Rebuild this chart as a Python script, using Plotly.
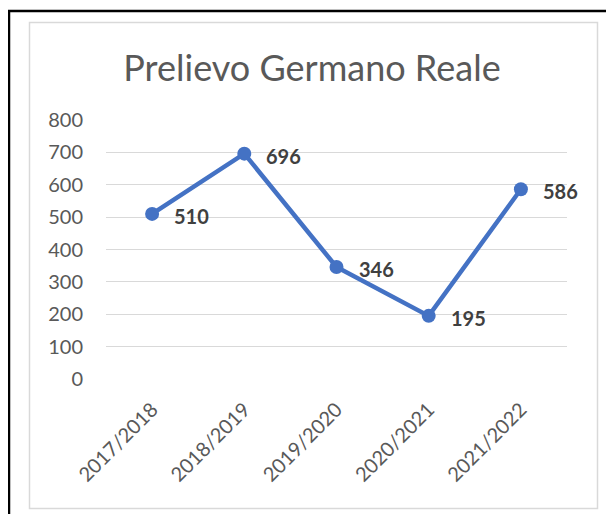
import plotly.graph_objects as go

seasons = ["2017/2018", "2018/2019", "2019/2020", "2020/2021", "2021/2022"]
prelievo = [510, 696, 346, 195, 586]
y_ticks = [0, 100, 200, 300, 400, 500, 600, 700, 800]

# the page body adds an 8px margin; lay out in reference pixels minus that offset
OFF = 8
W, H = 614 - 2 * OFF, 522 - 2 * OFF
L, T = 106 - OFF, 120 - OFF
R = W - (567 - OFF)
B = H - (379 - OFF)
FONT = "Lato, Carlito, Calibri, sans-serif"

def px_x(px):
    return (px - OFF - L) / (W - L - R)

def px_y(py):
    return (H - B - (py - OFF)) / (H - T - B)

fig = go.Figure()
fig.add_trace(go.Scatter(
    x=seasons, y=prelievo, mode="lines+markers",
    line=dict(color="#4472C4", width=4.5),
    marker=dict(color="#4472C4", size=14),
    hoverinfo="x+y", showlegend=False,
))

for s, v in zip(seasons, prelievo):
    fig.add_annotation(x=s, y=v, text="<b>%d</b>" % v, showarrow=False,
                       xanchor="left", yanchor="middle", xshift=20, yshift=-2,
                       font=dict(family=FONT, size=20, color="#404040"))

fig.update_layout(
    width=W, height=H,
    margin=dict(l=L, r=R, t=T, b=B, autoexpand=False),
    paper_bgcolor="white", plot_bgcolor="white",
    title=dict(text="Prelievo Germano Reale", x=px_x(312), xref="paper",
               y=1 - (68 - OFF) / H, yref="container", xanchor="center", yanchor="middle",
               font=dict(family=FONT, size=36, color="#595959")),
    xaxis=dict(type="category", range=[-0.5, 4.5], showgrid=False, zeroline=False,
               showline=False, tickangle=-45, ticks="", ticklabelstandoff=14,
               tickfont=dict(family=FONT, size=20, color="#595959")),
    yaxis=dict(range=[0, 800], tickvals=y_ticks, showgrid=True, gridcolor="#D9D9D9",
               gridwidth=1.3, zeroline=False, showline=False, ticks="",
               ticklabelstandoff=22,
               tickfont=dict(family=FONT, size=20, color="#595959")),
    shapes=[
        dict(type="rect", xref="paper", yref="paper",
             x0=px_x(29.5), x1=px_x(597.5), y0=px_y(508.5), y1=px_y(22.5),
             line=dict(color="#D9D9D9", width=1.5), layer="below"),
        dict(type="rect", xref="paper", yref="paper",
             x0=px_x(9), x1=px_x(660), y0=px_y(580), y1=px_y(11),
             line=dict(color="black", width=2.5), layer="below"),
    ],
)

fig.write_html("out.html")
